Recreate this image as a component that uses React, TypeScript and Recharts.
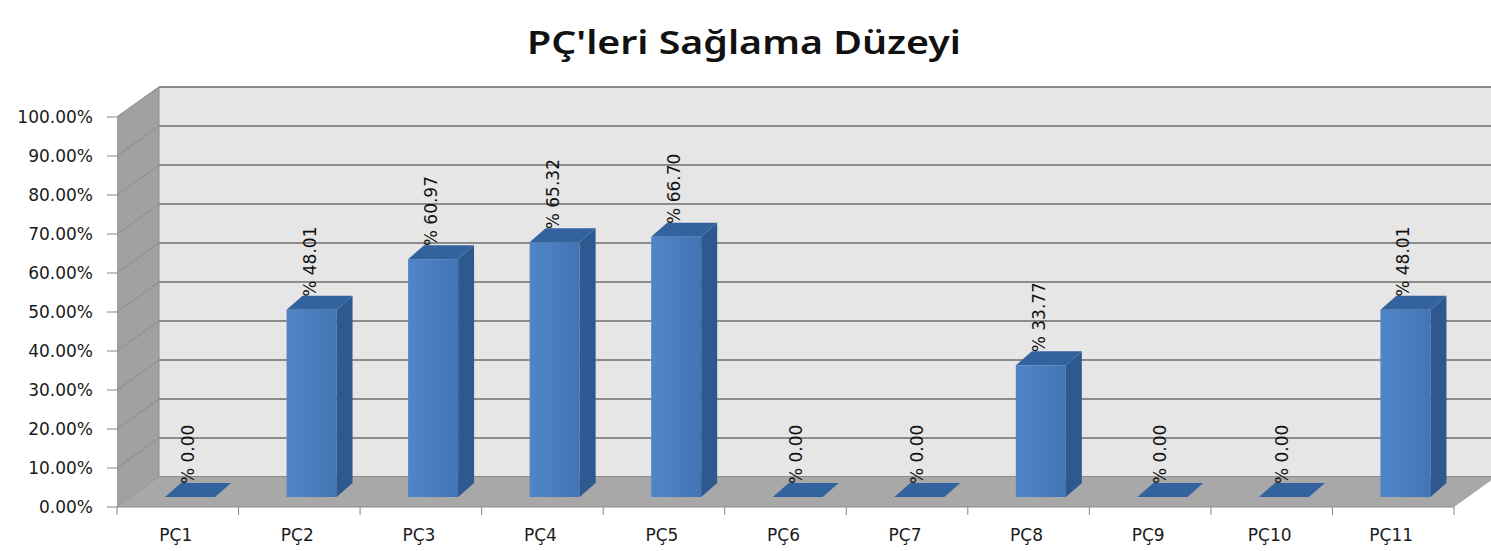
import React from "react";
import { BarChart, Bar, XAxis, YAxis, LabelList } from "recharts";

const categories = ["PÇ1", "PÇ2", "PÇ3", "PÇ4", "PÇ5", "PÇ6", "PÇ7", "PÇ8", "PÇ9", "PÇ10", "PÇ11"];
const levels = [0, 0.4801, 0.6097, 0.6532, 0.667, 0, 0, 0.3377, 0, 0, 0.4801];
const yTicks = [0, 0.1, 0.2, 0.3, 0.4, 0.5, 0.6, 0.7, 0.8, 0.9, 1];
const title = "PÇ'leri Sağlama Düzeyi";

const data = categories.map((name, i) => ({ name, value: levels[i] }));

// chart frame
const W = 1491;
const H = 551;
const LEFT = 117; // front y axis
const RIGHT = 1454; // end of front x axis
const TOP = 117; // 100% on front plane
const BOTTOM = 507; // 0% on front plane
const X_AXIS_H = 30;
const DX = 42; // depth of the walls
const DY = 30;
// bar placement inside the depth, and bar thickness
const SX = 12;
const SY = 10;
const BX = 16;
const BY = 14;

const yPx = (v: number) => BOTTOM - v * (BOTTOM - TOP);

const Walls = () => (
  <svg width={W} height={H} style={{ position: "absolute", left: 0, top: 0 }}>
    <text
      x={744}
      y={54}
      textAnchor="middle"
      fontFamily="'Noto Sans', sans-serif"
      fontWeight={600}
      fontSize={32}
      fill="#111"
      textLength={434}
      lengthAdjust="spacingAndGlyphs"
    >
      {title}
    </text>
    {/* back wall */}
    <rect x={LEFT + DX} y={TOP - DY} width={W - LEFT - DX} height={BOTTOM - TOP} fill="#e6e6e6" />
    {/* left wall */}
    <polygon
      points={`${LEFT},${TOP} ${LEFT + DX},${TOP - DY} ${LEFT + DX},${BOTTOM - DY} ${LEFT},${BOTTOM}`}
      fill="#a1a1a1"
    />
    {yTicks.map((t) => (
      <g key={t}>
        <line x1={LEFT + DX} x2={W} y1={yPx(t) - DY} y2={yPx(t) - DY} stroke="#8c8c8c" strokeWidth={2} />
        <line x1={LEFT} x2={LEFT + DX} y1={yPx(t)} y2={yPx(t) - DY} stroke="#949494" strokeWidth={1.5} />
      </g>
    ))}
    <line x1={LEFT + DX} x2={LEFT + DX} y1={TOP - DY} y2={BOTTOM - DY} stroke="#8c8c8c" strokeWidth={1} />
    {/* floor */}
    <polygon
      points={`${LEFT},${BOTTOM} ${LEFT + DX},${BOTTOM - DY} ${RIGHT + DX},${BOTTOM - DY} ${RIGHT},${BOTTOM}`}
      fill="#a8a8a8"
    />
  </svg>
);

const Box = (props: any) => {
  const { x, y, width, height } = props;
  const fx = x + SX;
  const top = y - SY;
  const bot = y + height - SY;
  return (
    <g>
      {height > 0 && <rect x={fx} y={top} width={width} height={height} fill="url(#barFront)" />}
      {height > 0 && (
        <polygon
          points={`${fx + width},${top} ${fx + width + BX},${top - BY} ${fx + width + BX},${bot - BY} ${fx + width},${bot}`}
          fill="#2d5890"
        />
      )}
      <polygon
        points={`${fx},${top} ${fx + width},${top} ${fx + width + BX},${top - BY} ${fx + BX},${top - BY}`}
        fill="#33639f"
      />
    </g>
  );
};

const ValueLabel = (props: any) => {
  const { x, y, width, value } = props;
  const cx = x + SX + width / 2 - 2;
  const cy = y - SY - BY + 1;
  return (
    <text
      x={cx}
      y={cy}
      transform={`rotate(-90 ${cx} ${cy})`}
      textAnchor="start"
      dominantBaseline="central"
      fontFamily="'DejaVu Sans', sans-serif"
      fontSize={17}
      fill="#111"
    >
      {"% " + (value * 100).toFixed(2)}
    </text>
  );
};

const XTick = (props: any) => {
  const { x, payload, index } = props;
  const off = payload.offset || (RIGHT - LEFT) / categories.length / 2;
  return (
    <g>
      {index === 0 && <line x1={x - off} x2={x - off} y1={BOTTOM} y2={BOTTOM + 8} stroke="#868686" />}
      <line x1={x + off} x2={x + off} y1={BOTTOM} y2={BOTTOM + 8} stroke="#868686" />
      <text x={x - 2} y={BOTTOM + 34} textAnchor="middle" fontFamily="'DejaVu Sans', sans-serif" fontSize={17} fill="#1a1a1a">
        {payload.value}
      </text>
    </g>
  );
};

const App = () => {
  return (
    <div style={{ position: "absolute", left: 0, top: 0, width: W, height: H, background: "#fff" }}>
      <Walls />
      <div style={{ position: "absolute", left: 0, top: 0 }}>
        <BarChart
          width={W}
          height={H}
          data={data}
          margin={{ top: TOP, right: W - RIGHT, bottom: H - BOTTOM - X_AXIS_H, left: 0 }}
        >
          <defs>
            <linearGradient id="barFront" x1="0" y1="0" x2="1" y2="0">
              <stop offset="0%" stopColor="#4f86c8" />
              <stop offset="100%" stopColor="#4374b4" />
            </linearGradient>
          </defs>
          <XAxis
            dataKey="name"
            height={X_AXIS_H}
            interval={0}
            tickLine={false}
            axisLine={{ stroke: "#8a8a8a" }}
            tick={<XTick />}
          />
          <YAxis
            width={LEFT}
            domain={[0, 1]}
            ticks={yTicks}
            axisLine={false}
            tickSize={10}
            tickMargin={14}
            tickLine={{ stroke: "#868686" }}
            tickFormatter={(v: number) => (v * 100).toFixed(2) + "%"}
            tick={{ fontFamily: "'DejaVu Sans', sans-serif", fontSize: 17, fill: "#1a1a1a" }}
          />
          <Bar dataKey="value" barSize={50} shape={<Box />} isAnimationActive={false}>
            <LabelList dataKey="value" content={<ValueLabel />} />
          </Bar>
        </BarChart>
      </div>
    </div>
  );
};

export default App;
